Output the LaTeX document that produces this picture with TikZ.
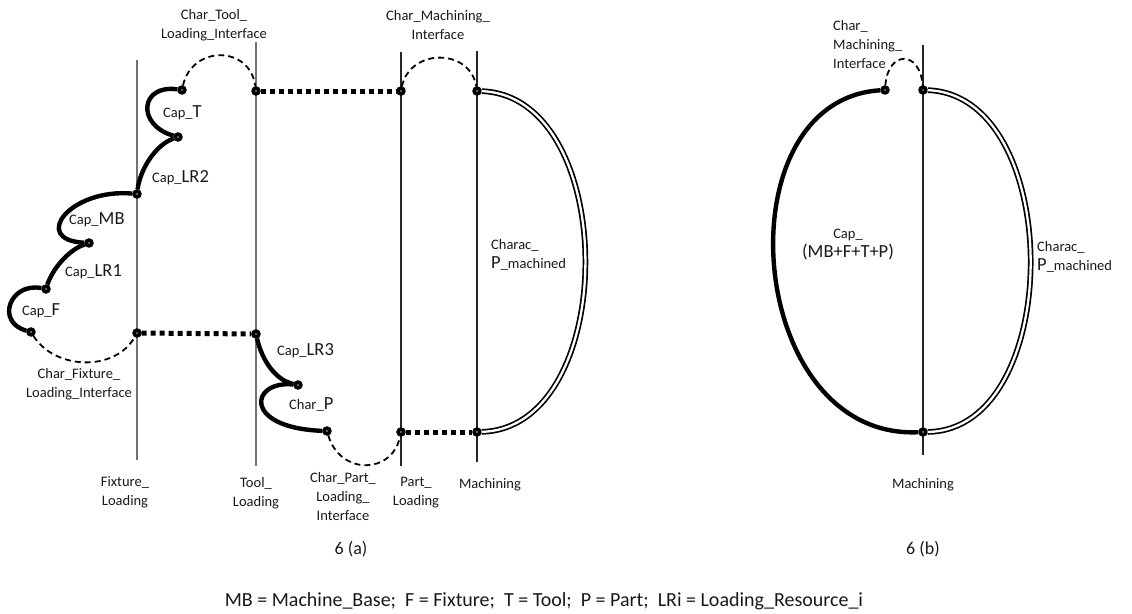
\documentclass[tikz,border=0pt]{standalone}
\usepackage{fontspec}
\setmainfont{Carlito}
\newcommand\Lrg[1]{{\fontsize{18.5}{19}\selectfont #1}}
\begin{document}
\begin{tikzpicture}[x=1pt,y=-1pt,
  dot/.style={circle,draw,fill=white,line width=3.7pt,minimum size=5.6pt,inner sep=0pt},
  capline/.style={line width=4.4pt},
  iface/.style={line width=1.8pt,dash pattern=on 6pt off 4pt},
  link/.style={line width=5pt,dash pattern=on 5pt off 4pt},
  dbl/.style={double=white,double distance=2.3pt,line width=1.7pt},
  vline/.style={black!55,line width=1.5pt},
  vlinek/.style={black!85,line width=1.1pt},
  lbl/.style={font=\fontsize{14.5}{19}\selectfont,inner sep=0pt,align=center,text=black!90},
  lblw/.style={lbl,anchor=west,align=left},
  captext/.style={font=\fontsize{18}{22}\selectfont,inner sep=0pt,text=black!90},
  legtext/.style={font=\fontsize{20}{24}\selectfont,inner sep=0pt,text=black!90},
]
\useasboundingbox (0,0) rectangle (1132,613);
% vertical lines (stages)
\draw[vline] (137,60) -- (137,460);
\draw[vline] (256,42) -- (256,466);
\draw[vlinek] (401,52) -- (401,466);
\draw[vlinek] (477,51) -- (477,462);
\draw[vlinek] (923,45) -- (923,455);
% points
\node[dot] (t1) at (182,90) {};
\node[dot] (t2) at (178,137) {};
\node[dot] (j1) at (137,194) {};
\node[dot] (mb) at (89,243) {};
\node[dot] (f1) at (46,289) {};
\node[dot] (f2) at (31,332) {};
\node[dot] (j2) at (137,333) {};
\node[dot] (tt) at (256,91) {};
\node[dot] (tb) at (256,334) {};
\node[dot] (p1) at (298,385) {};
\node[dot] (p2) at (327,431) {};
\node[dot] (qt) at (401,91) {};
\node[dot] (qb) at (401,432) {};
\node[dot] (mt) at (477,91) {};
\node[dot] (mbt) at (477,432) {};
\node[dot] (b1) at (885,90) {};
\node[dot] (b2) at (923,90) {};
\node[dot] (b3) at (923,432) {};
% capability chains (a)
\draw[capline] (t1) .. controls (140,84) and (136,125) .. (t2);
\draw[capline] (t2) .. controls (155,145) and (140,170) .. (j1);
\draw[capline] (j1) .. controls (70,188) and (30,240) .. (mb);
\draw[capline] (mb) .. controls (68,250) and (52,270) .. (f1);
\draw[capline] (f1) .. controls (10,282) and (-5,322) .. (f2);
\draw[capline] (tb) .. controls (262,360) and (275,380) .. (p1);
\draw[capline] (p1) .. controls (250,380) and (242,428) .. (p2);
% interfaces (a)
\draw[iface] (f2) .. controls (55,370) and (115,372) .. (j2);
\draw[iface] (t1) .. controls (192,45) and (250,45) .. (tt);
\draw[iface] (qt) .. controls (410,48) and (470,48) .. (mt);
\draw[iface] (p2) .. controls (340,475) and (392,475) .. (qb);
% links (a)
\draw[link] (j2) -- (tb);
\draw[link] (tt) -- (qt);
\draw[link] (qb) -- (mbt);
% machined characteristic (a)
\draw[dbl] (mt) .. controls (620,96) and (620,428) .. (mbt);
% (b)
\draw[capline] (b1) .. controls (720,100) and (745,440) .. (b3);
\draw[dbl] (b2) .. controls (1065,95) and (1065,430) .. (b3);
\draw[iface] (b1) .. controls (888,50) and (920,50) .. (b2);
% labels (a)
\node[lbl] (lct) at (214,25.5) {Char\_Tool\_\\Loading\_Interface};
\node[lbl] (lcm) at (438,25.5) {Char\_Machining\_\\Interface};
\node[lblw] (lt) at (163,113) {Cap\_\Lrg{T}};
\node[lblw] (llr2) at (152,178) {Cap\_\Lrg{LR2}};
\node[lblw] (lmb) at (69,220) {Cap\_\Lrg{MB}};
\node[lblw] (llr1) at (65,272) {Cap\_\Lrg{LR1}};
\node[lblw] (lf) at (22,311) {Cap\_\Lrg{F}};
\node[lbl] (lcf) at (79,384.5) {Char\_Fixture\_\\Loading\_Interface};
\node[lblw] (llr3) at (277,351) {Cap\_\Lrg{LR3}};
\node[lblw] (lp) at (289,405) {Char\_\Lrg{P}};
\node[lbl] (lcp) at (343,496.5) {Char\_Part\_\\Loading\_\\Interface};
\node[lblw] (lpm) at (491,255) {Charac\_\\\Lrg{P}\_machined};
\node[lbl] (lfl) at (125,492.5) {Fixture\_\\Loading};
\node[lbl] (ltl) at (256,493.5) {Tool\_\\Loading};
\node[lbl] (lpl) at (416,492.5) {Part\_\\Loading};
\node[lbl] (lma) at (490,485) {Machining};
% labels (b)
\node[lblw] (lbm) at (833,44.5) {Char\_\\Machining\_\\Interface};
\node[lbl] (lbc) at (848,245) {Cap\_\\\Lrg{(MB+F+T+P)}};
\node[lblw] (lbp) at (1037,257) {Charac\_\\\Lrg{P}\_machined};
\node[lbl] (lbma) at (923,485) {Machining};
% captions
\node[captext] (ca) at (351,549) {6 (a)};
\node[captext] (cb) at (923,549) {6 (b)};
\node[legtext] (leg) at (544,601) {MB = Machine\_Base;\ \ F = Fixture;\ \ T = Tool;\ \ P = Part;\ \ LRi = Loading\_Resource\_i};
\end{tikzpicture}
\end{document}
